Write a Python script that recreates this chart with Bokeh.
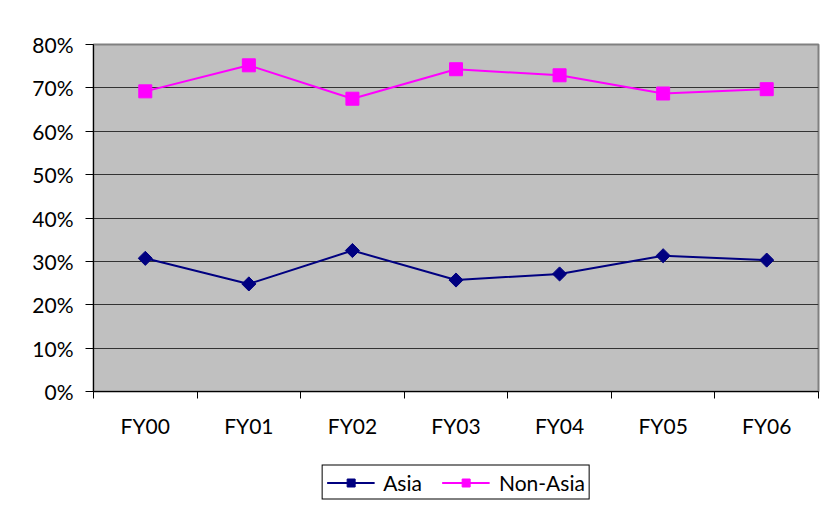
import numpy as np
from bokeh.plotting import figure
from bokeh.layouts import column
from bokeh.models import (Range1d, FixedTicker, NumeralTickFormatter, Legend, LegendItem)
from bokeh.embed import file_html
from bokeh.resources import INLINE

categories = ["FY00", "FY01", "FY02", "FY03", "FY04", "FY05", "FY06"]
asia = [0.307, 0.248, 0.325, 0.257, 0.271, 0.313, 0.303]
non_asia = [0.692, 0.752, 0.675, 0.743, 0.729, 0.687, 0.697]
y_ticks = [0.0, 0.1, 0.2, 0.3, 0.4, 0.5, 0.6, 0.7, 0.8]
series_names = ["Asia", "Non-Asia"]

FONT = "Lato"
ASIA_COLOR = "#000080"
NON_ASIA_COLOR = "#FF00FF"

xs = [i + 0.5 for i in range(len(categories))]

p = figure(width=825, height=458, output_backend="svg", toolbar_location=None,
           x_range=Range1d(0, len(categories)), y_range=Range1d(0, 0.8),
           min_border_left=93, min_border_right=7, min_border_top=44, min_border_bottom=67)

p.background_fill_color = "#C0C0C0"
p.border_fill_color = "white"
p.outline_line_color = "#808080"
p.outline_line_width = 2

# grid
p.xgrid.grid_line_color = None
p.ygrid.ticker = FixedTicker(ticks=y_ticks)
p.ygrid.grid_line_color = "#333333"
p.ygrid.grid_line_width = 1

# y axis
ya = p.yaxis[0]
ya.ticker = FixedTicker(ticks=y_ticks)
ya.formatter = NumeralTickFormatter(format="0%")
ya.major_tick_out = 8
ya.major_tick_in = 0
ya.minor_tick_line_color = None
ya.axis_line_color = "black"
ya.major_tick_line_color = "black"
ya.major_label_text_font = FONT
ya.major_label_text_font_size = "21px"
ya.major_label_text_color = "black"
ya.major_label_standoff = 12

# x axis: labels at centres, ticks at boundaries
xa = p.xaxis[0]
xa.ticker = FixedTicker(ticks=xs, minor_ticks=list(range(len(categories) + 1)))
xa.major_label_overrides = {x: c for x, c in zip(xs, categories)}
xa.major_tick_out = 0
xa.major_tick_in = 0
xa.minor_tick_out = 7
xa.minor_tick_in = 0
xa.minor_tick_line_color = "black"
xa.axis_line_color = "black"
xa.major_label_text_font = FONT
xa.major_label_text_font_size = "21px"
xa.major_label_text_color = "black"
xa.major_label_standoff = 14

p.line(xs, asia, line_color=ASIA_COLOR, line_width=2)
p.scatter(xs, asia, marker="square", angle=np.pi / 4, size=10,
          fill_color=ASIA_COLOR, line_color=ASIA_COLOR)
p.line(xs, non_asia, line_color=NON_ASIA_COLOR, line_width=2)
p.scatter(xs, non_asia, marker="square", size=13, fill_color=NON_ASIA_COLOR, line_color=NON_ASIA_COLOR)

# legend strip below the chart (proxy renderers sit outside the visible range)
p2 = figure(width=825, height=48, output_backend="svg", toolbar_location=None,
            x_axis_type=None, y_axis_type=None, x_range=Range1d(0, 1), y_range=Range1d(0, 1),
            min_border_left=0, min_border_right=0, min_border_top=0, min_border_bottom=0)
p2.outline_line_color = None
p2.grid.grid_line_color = None
p2.background_fill_color = "white"
p2.border_fill_color = "white"

off = [-5.0]
ll1 = p2.line(off, off, line_color=ASIA_COLOR, line_width=2)
lm1 = p2.scatter(off, off, marker="square", angle=np.pi / 4, size=10,
                 fill_color=ASIA_COLOR, line_color=ASIA_COLOR)
ll2 = p2.line(off, off, line_color=NON_ASIA_COLOR, line_width=2)
lm2 = p2.scatter(off, off, marker="square", size=13, fill_color=NON_ASIA_COLOR, line_color=NON_ASIA_COLOR)

legend = Legend(items=[LegendItem(label=series_names[0], renderers=[ll1, lm1]),
                       LegendItem(label=series_names[1], renderers=[ll2, lm2])],
                orientation="horizontal", location="center",
                label_text_font=FONT, label_text_font_size="21px", label_text_color="black",
                border_line_color="black", border_line_width=1, border_line_alpha=1,
                background_fill_color="white", background_fill_alpha=1,
                glyph_width=48, glyph_height=20, label_standoff=9, spacing=20,
                padding=4, margin=0)
p2.add_layout(legend, "center")

layout = column(p, p2, spacing=0)

open("out.html", "w").write(file_html(layout, INLINE))
